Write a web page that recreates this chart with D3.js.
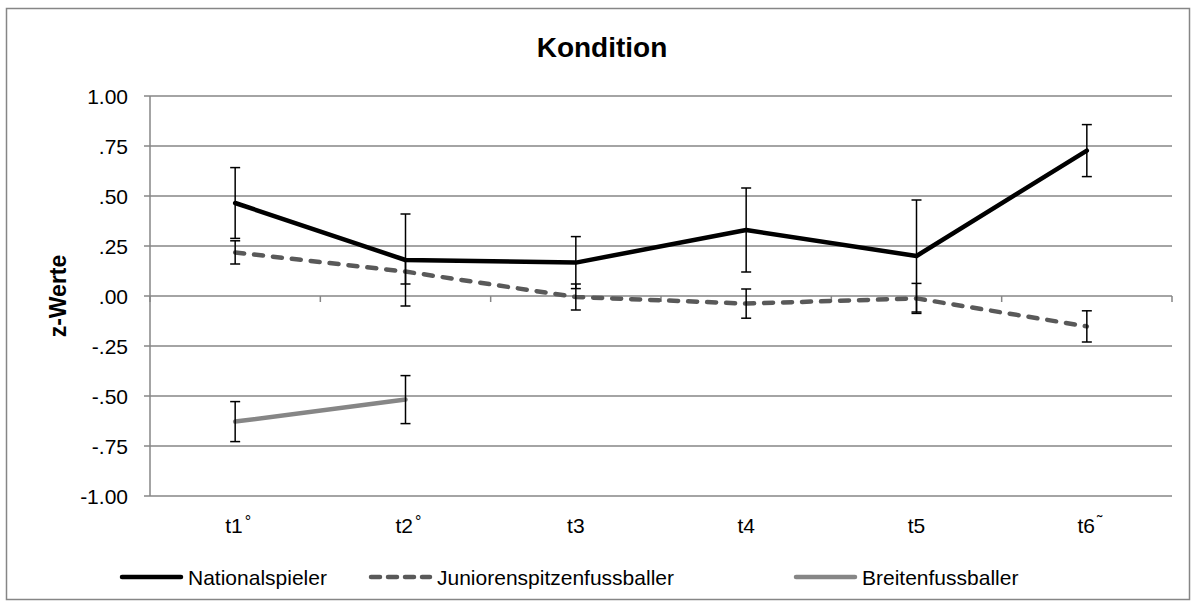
<!DOCTYPE html>
<html><head><meta charset="utf-8">
<script src="https://cdn.jsdelivr.net/npm/d3@7"></script>
<style>body{margin:0;background:#fff}svg{display:block;font-family:Arial,"Liberation Sans",sans-serif}</style>
</head><body><svg id="c" width="1196" height="608"></svg>
<script>
const categories = ["t1", "t2", "t3", "t4", "t5", "t6"];
const catMarks = ["°", "°", "", "", "", "˜"];
const yTicks = [1, 0.75, 0.5, 0.25, 0, -0.25, -0.5, -0.75, -1];
const yTickLabels = ["1.00", ".75", ".50", ".25", ".00", "-.25", "-.50", "-.75", "-1.00"];
const seriesNames = ["Nationalspieler", "Juniorenspitzenfussballer", "Breitenfussballer"];
const national = [0.465, 0.18, 0.167, 0.33, 0.20, 0.727];
const nationalErr = [0.177, 0.23, 0.13, 0.21, 0.28, 0.13];
const junioren = [0.218, 0.122, -0.005, -0.038, -0.012, -0.152];
const juniorenErr = [0.058, 0.062, 0.065, 0.073, 0.075, 0.078];
const breiten = [-0.628, -0.518, null, null, null, null];
const breitenErr = [0.1, 0.12, null, null, null, null];

const series = [
  {name: seriesNames[0], values: national, err: nationalErr, color: "#000000", dash: null},
  {name: seriesNames[1], values: junioren, err: juniorenErr, color: "#595959", dash: "9,10"},
  {name: seriesNames[2], values: breiten, err: breitenErr, color: "#868686", dash: null}
];

const svg = d3.select("#c");
const L = 150, R = 1172, T = 96, B = 496;
const FS = 21;
const x = d3.scaleBand().domain(categories).range([L, R]);
const y = d3.scaleLinear().domain([-1, 1]).range([B, T]);

svg.append("rect").attr("x", 6.5).attr("y", 8.5).attr("width", 1183).attr("height", 591)
  .attr("fill", "#fff").attr("stroke", "#868686").attr("stroke-width", 1.5);

svg.append("text").attr("x", 602).attr("y", 57).attr("text-anchor", "middle")
  .attr("font-size", 28).attr("font-weight", "bold").text("Kondition");

// gridlines
svg.append("g").selectAll("line").data(yTicks).join("line")
  .attr("x1", L - 6).attr("x2", R).attr("y1", d => y(d)).attr("y2", d => y(d))
  .attr("stroke", "#868686").attr("stroke-width", 1.5);

// y axis
const yAxis = d3.axisLeft(y).tickValues(yTicks).tickSize(0).tickPadding(22)
  .tickFormat((d, i) => yTickLabels[i]);
const yg = svg.append("g").attr("transform", `translate(${L},0)`).call(yAxis);
yg.attr("font-size", null).attr("font-family", null);
yg.select(".domain").remove();
yg.selectAll("text").attr("font-size", FS).attr("fill", "#000").attr("dy", "0.36em");
svg.append("line").attr("x1", L).attr("x2", L).attr("y1", T).attr("y2", B)
  .attr("stroke", "#868686").attr("stroke-width", 1.5);

// x axis ticks
const bounds = categories.map(c => x(c)).concat([R]);
svg.append("g").selectAll("line").data(bounds).join("line")
  .attr("x1", d => d).attr("x2", d => d).attr("y1", y(0)).attr("y2", y(0) + 6)
  .attr("stroke", "#868686").attr("stroke-width", 1.5);

// x labels
const xl = svg.append("g").selectAll("text").data(categories).join("text")
  .attr("x", (d, i) => x(d) + x.bandwidth() / 2 + (catMarks[i] ? 3 : 0)).attr("y", 533)
  .attr("text-anchor", "middle").attr("font-size", FS);
xl.append("tspan").text(d => d);
xl.append("tspan").attr("font-size", 16).attr("dx", 2).attr("dy", -6).text((d, i) => catMarks[i]);

svg.append("text").attr("transform", "translate(66,296) rotate(-90)")
  .attr("text-anchor", "middle").attr("font-size", 23).attr("font-weight", "bold").text("z-Werte");

const cx = d => x(d) + x.bandwidth() / 2;

// lines
series.forEach(s => {
  const line = d3.line().defined(d => d[1] != null).x(d => cx(d[0])).y(d => y(d[1]));
  svg.append("path").datum(categories.map((c, i) => [c, s.values[i]]))
    .attr("d", line).attr("fill", "none").attr("stroke", s.color).attr("stroke-width", 4.5)
    .attr("stroke-dasharray", s.dash).attr("stroke-linecap", "round")
    .attr("stroke-linejoin", "round");
});

// error bars
series.forEach(s => {
  const g = svg.append("g").attr("stroke", "#000").attr("stroke-width", 1.5);
  categories.forEach((c, i) => {
    if (s.values[i] == null) return;
    const xc = cx(c), hi = y(s.values[i] + s.err[i]), lo = y(s.values[i] - s.err[i]);
    g.append("line").attr("x1", xc).attr("x2", xc).attr("y1", hi).attr("y2", lo);
    g.append("line").attr("x1", xc - 5).attr("x2", xc + 5).attr("y1", hi).attr("y2", hi);
    g.append("line").attr("x1", xc - 5).attr("x2", xc + 5).attr("y1", lo).attr("y2", lo);
  });
});

// legend
const legX = [122, 371, 796];
series.forEach((s, i) => {
  svg.append("line").attr("x1", legX[i]).attr("x2", legX[i] + 59).attr("y1", 577).attr("y2", 577)
    .attr("stroke", s.color).attr("stroke-width", 4.5).attr("stroke-linecap", "round")
    .attr("stroke-dasharray", s.dash ? "9,8" : null);
  svg.append("text").attr("x", legX[i] + 66).attr("y", 585).attr("font-size", FS).text(s.name);
});
</script></body></html>
